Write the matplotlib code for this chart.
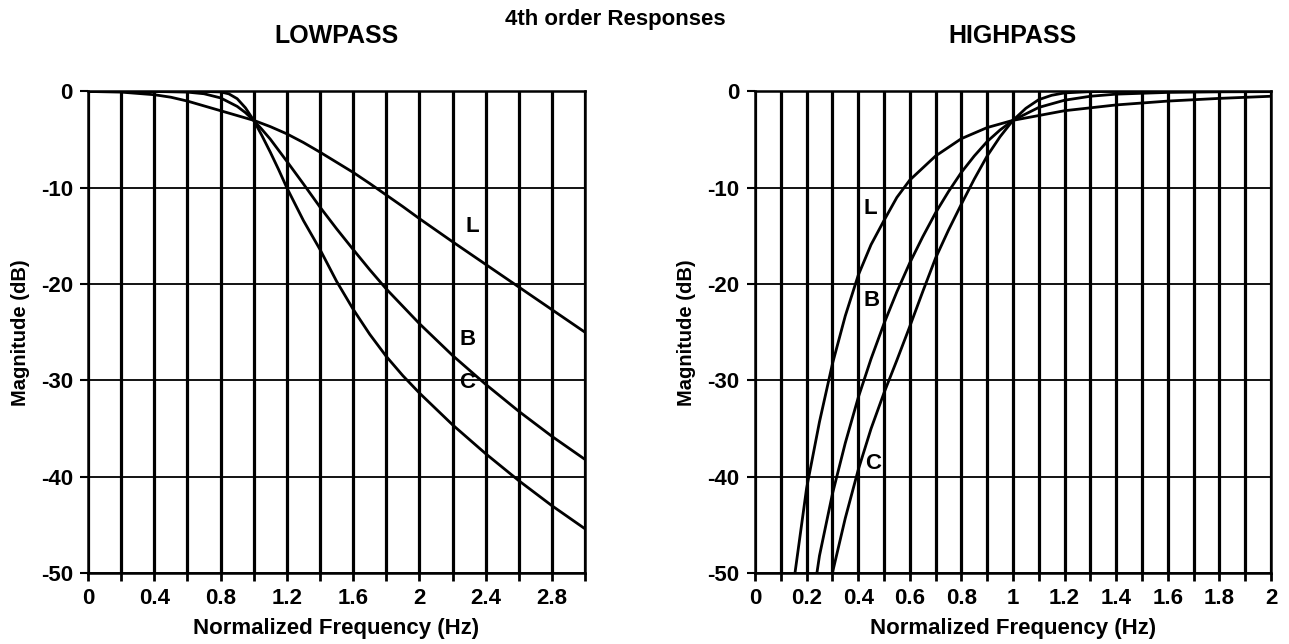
import numpy as np
import matplotlib.pyplot as plt

plt.rcParams['font.family'] = ['Liberation Sans', 'DejaVu Sans']
plt.rcParams['font.weight'] = 'bold'
plt.rcParams['axes.unicode_minus'] = False

# lowpass curves (dB)
lp_L_freq = [0, 0.2, 0.4, 0.5, 0.6, 0.7, 0.8, 0.9, 1.0, 1.1, 1.2, 1.3, 1.4, 1.5, 1.6, 1.7, 1.8,
             1.9, 2.0, 2.1, 2.2, 2.4, 2.6, 2.8, 3.0]
lp_L = [0, -0.07, -0.34, -0.6, -1.0, -1.5, -2.0, -2.5, -3.0, -3.65, -4.4, -5.3, -6.3, -7.35, -8.4,
        -9.55, -10.75, -11.95, -13.2, -14.4, -15.6, -17.95, -20.3, -22.65, -25.0]
lp_B_freq = [0, 0.2, 0.4, 0.6, 0.7, 0.8, 0.9, 0.95, 1.0, 1.05, 1.1, 1.15, 1.2, 1.3, 1.4, 1.5, 1.6,
             1.7, 1.8, 1.9, 2.0, 2.2, 2.4, 2.6, 2.8, 3.0]
lp_B = [0, 0, 0, -0.07, -0.24, -0.67, -1.55, -2.2, -3.0, -3.95, -4.95, -6.1, -7.25, -9.6, -12.0,
        -14.25, -16.4, -18.5, -20.5, -22.3, -24.1, -27.4, -30.4, -33.2, -35.8, -38.2]
lp_C_freq = [0, 0.2, 0.4, 0.6, 0.7, 0.8, 0.85, 0.9, 0.95, 1.0, 1.05, 1.1, 1.15, 1.2, 1.3, 1.4,
             1.5, 1.6, 1.7, 1.8, 1.9, 2.0, 2.2, 2.4, 2.6, 2.8, 3.0]
lp_C = [0, 0, 0, 0, 0, -0.05, -0.25, -0.75, -1.7, -3.0, -4.6, -6.3, -8.1, -10.0, -13.4, -16.4,
        -19.7, -22.6, -25.2, -27.5, -29.5, -31.3, -34.6, -37.6, -40.4, -43.0, -45.4]

# highpass curves (dB)
hp_L_freq = [0.155, 0.2, 0.25, 0.3, 0.35, 0.4, 0.45, 0.5, 0.55, 0.6, 0.7, 0.8, 0.9, 1.0, 1.1, 1.2,
             1.3, 1.4, 1.6, 1.8, 2.0]
hp_L = [-50, -41.2, -34.3, -28.3, -23.3, -19.1, -15.9, -13.4, -11.0, -9.2, -6.7, -4.9, -3.75, -3.0,
        -2.5, -2.0, -1.7, -1.4, -1.0, -0.72, -0.5]
hp_B_freq = [0.24, 0.25, 0.3, 0.35, 0.4, 0.45, 0.5, 0.55, 0.6, 0.65, 0.7, 0.75, 0.8, 0.85, 0.9,
             0.95, 1.0, 1.1, 1.2, 1.3, 1.4, 1.6, 1.8, 2.0]
hp_B = [-50, -48.2, -41.8, -36.5, -31.8, -27.75, -24.1, -20.8, -17.8, -15.1, -12.6, -10.4, -8.4,
        -6.7, -5.2, -4.0, -3.0, -1.66, -0.91, -0.5, -0.28, -0.1, -0.04, -0.02]
hp_C_freq = [0.30, 0.35, 0.4, 0.45, 0.5, 0.55, 0.6, 0.65, 0.7, 0.75, 0.8, 0.85, 0.9, 0.95, 1.0,
             1.05, 1.1, 1.15, 1.2, 1.3, 1.4, 1.6, 1.8, 2.0]
hp_C = [-50, -44.3, -39.3, -35.0, -31.3, -27.9, -24.4, -20.8, -17.3, -14.4, -11.7, -9.1, -6.7,
        -4.7, -3.0, -1.75, -0.85, -0.4, -0.15, -0.02, 0, 0, 0, 0]

lp_ticks = [0, 0.4, 0.8, 1.2, 1.6, 2, 2.4, 2.8]
hp_ticks = [0, 0.2, 0.4, 0.6, 0.8, 1, 1.2, 1.4, 1.6, 1.8, 2]
db_ticks = [0, -10, -20, -30, -40, -50]


def setup(ax, xmax, step, ticks):
    ax.set_xlim(0, xmax)
    ax.set_ylim(-50, 0)
    grid = np.arange(0, xmax + step / 2, step)
    for x in grid:
        ax.axvline(x, color='black', lw=2.3, zorder=1)
    for y in db_ticks:
        ax.axhline(y, color='black', lw=1.3, zorder=1)
    ax.set_xticks(grid, minor=True)
    ax.set_xticks(ticks)
    ax.set_xticklabels([('%g' % t) for t in ticks])
    ax.set_yticks(db_ticks)
    ax.set_yticklabels([str(t) for t in db_ticks])
    ax.tick_params(axis='x', which='both', direction='out', width=2, length=6, pad=5,
                   labelsize=16)
    ax.tick_params(axis='y', direction='out', width=1.5, length=6, pad=5, labelsize=16)
    for s in ax.spines.values():
        s.set_linewidth(1.8)
    ax.set_xlabel('Normalized Frequency (Hz)', fontsize=16, fontweight='bold', labelpad=6)
    ax.set_ylabel('Magnitude (dB)', fontsize=14.5, fontweight='bold', labelpad=8)


fig = plt.figure(figsize=(12.89, 6.44), dpi=100)
ax1 = fig.add_axes([0.0683, 0.110, 0.3856, 0.748])
ax2 = fig.add_axes([0.5857, 0.110, 0.4003, 0.748])

setup(ax1, 3.0, 0.2, lp_ticks)
ax1.plot(lp_L_freq, lp_L, color='black', lw=2.0, zorder=3)
ax1.plot(lp_B_freq, lp_B, color='black', lw=2.0, zorder=3)
ax1.plot(lp_C_freq, lp_C, color='black', lw=2.0, zorder=3)
ax1.text(2.32, -14.0, 'L', fontsize=16, fontweight='bold', ha='center', va='center', zorder=4)
ax1.text(2.29, -25.7, 'B', fontsize=16, fontweight='bold', ha='center', va='center', zorder=4)
ax1.text(2.29, -30.2, 'C', fontsize=16, fontweight='bold', ha='center', va='center', zorder=4)

setup(ax2, 2.0, 0.1, hp_ticks)
ax2.plot(hp_L_freq, hp_L, color='black', lw=2.0, zorder=3)
ax2.plot(hp_B_freq, hp_B, color='black', lw=2.0, zorder=3)
ax2.plot(hp_C_freq, hp_C, color='black', lw=2.0, zorder=3)
ax2.text(0.446, -12.1, 'L', fontsize=16, fontweight='bold', ha='center', va='center', zorder=4)
ax2.text(0.45, -21.7, 'B', fontsize=16, fontweight='bold', ha='center', va='center', zorder=4)
ax2.text(0.457, -38.6, 'C', fontsize=16, fontweight='bold', ha='center', va='center', zorder=4)

fig.text(336 / 1289, 1 - 36 / 644, 'LOWPASS', fontsize=18, fontweight='bold', ha='center', va='center')
fig.text(1013 / 1289, 1 - 36 / 644, 'HIGHPASS', fontsize=18, fontweight='bold', ha='center', va='center')
fig.text(615 / 1289, 1 - 20 / 644, '4th order Responses', fontsize=16, fontweight='bold',
         ha='center', va='center')

fig.savefig('out.png', dpi=100)
